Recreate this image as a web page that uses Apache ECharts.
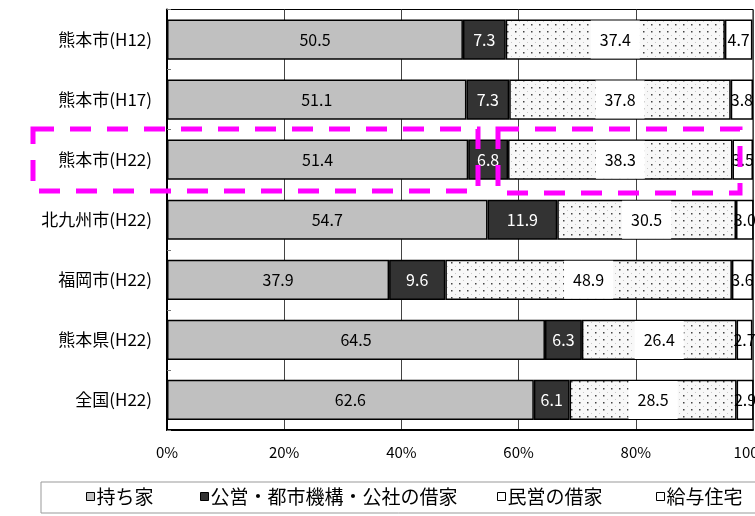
<!DOCTYPE html>
<html>
<head>
<meta charset="utf-8">
<script src="https://cdn.jsdelivr.net/npm/echarts@6/dist/echarts.min.js"></script>
<style>
  html, body { margin: 0; padding: 0; background: #fff; }
  #main { width: 755px; height: 516px; }
</style>
</head>
<body>
<div id="main"></div>
<script>
var categories = ["熊本市(H12)", "熊本市(H17)", "熊本市(H22)", "北九州市(H22)", "福岡市(H22)", "熊本県(H22)", "全国(H22)"];
var seriesNames = ["持ち家", "公営・都市機構・公社の借家", "民営の借家", "給与住宅"];
var ownHouse = [50.5, 51.1, 51.4, 54.7, 37.9, 64.5, 62.6];
var publicRent = [7.3, 7.3, 6.8, 11.9, 9.6, 6.3, 6.1];
var privateRent = [37.4, 37.8, 38.3, 30.5, 48.9, 26.4, 28.5];
var companyHouse = [4.7, 3.8, 3.5, 3.0, 3.6, 2.7, 2.9];
var xTicks = [0, 20, 40, 60, 80, 100];

var FONT = '"Noto Sans CJK JP", "Noto Sans", sans-serif';

// dotted fill for the private rent segments
var dots = document.createElement("canvas");
dots.width = 8;
dots.height = 7;
var dctx = dots.getContext("2d");
dctx.fillStyle = "#f8f8f8";
dctx.fillRect(0, 0, 8, 7);
dctx.fillStyle = "#444";
dctx.fillRect(3, 3, 1.5, 1.5);
dctx.fillStyle = "#c8c8c8";
dctx.fillRect(7, 0, 1, 1);

var fmt = function (p) { return p.value.toFixed(1); };

var makeSeries = function (name, data, color, labelColor, extraLabel) {
  var label = {
    show: true,
    position: "inside",
    color: labelColor,
    fontSize: 16,
    fontFamily: FONT,
    formatter: fmt
  };
  if (extraLabel) Object.assign(label, extraLabel);
  return {
    name: name,
    type: "bar",
    stack: "total",
    barCategoryGap: "33%",
    data: data,
    itemStyle: { color: color, borderColor: "#000", borderWidth: 1.5 },
    label: label,
    emphasis: { disabled: true }
  };
};

var legendIconColors = ["#c0c0c0", "#333333", "#ffffff", "#ffffff"];
var legendLefts = [86, 200, 497, 656];
var legends = seriesNames.map(function (n, i) {
  return {
    data: [{ name: n, icon: "rect", itemStyle: { color: legendIconColors[i], borderColor: "#000", borderWidth: 1 } }],
    left: legendLefts[i],
    top: 487,
    padding: 0,
    itemWidth: 8,
    itemHeight: 8,
    selectedMode: false,
    textStyle: { fontSize: 19, color: "#000", fontFamily: FONT, padding: [0, 0, 0, -3] }
  };
});

var myChart = echarts.init(document.getElementById("main"));
var option = {
  animation: false,
  backgroundColor: "#fff",
  textStyle: { fontFamily: FONT },
  grid: {
    left: 167,
    right: 2,
    top: 9.5,
    bottom: 86,
    show: true,
    borderColor: "#000",
    borderWidth: 1,
    containLabel: false,
    outerBoundsMode: "none"
  },
  legend: legends,
  xAxis: {
    type: "value",
    min: xTicks[0],
    max: xTicks[xTicks.length - 1],
    interval: 20,
    axisLine: { show: true, lineStyle: { color: "#000", width: 2 } },
    axisTick: { show: false },
    axisLabel: { formatter: "{value}%", color: "#000", fontSize: 15, margin: 15, fontFamily: FONT },
    splitLine: { show: true, lineStyle: { color: "#444", width: 1 } }
  },
  yAxis: {
    type: "category",
    inverse: true,
    data: categories,
    axisLine: { show: true, lineStyle: { color: "#000", width: 2 } },
    axisTick: { show: true, inside: true, length: 4, lineStyle: { color: "#777" } },
    axisLabel: { color: "#000", fontSize: 17, margin: 15, fontFamily: FONT },
    splitLine: { show: false }
  },
  series: [
    makeSeries(seriesNames[0], ownHouse, "#c0c0c0", "#000"),
    makeSeries(seriesNames[1], publicRent, "#333333", "#fff"),
    makeSeries(seriesNames[2], privateRent, { image: dots, repeat: "repeat" }, "#000",
      { backgroundColor: "#fff", padding: [11, 9] }),
    makeSeries(seriesNames[3], companyHouse, "#fff", "#000")
  ],
  graphic: [
    {
      type: "rect",
      silent: true,
      shape: { x: 41, y: 482, width: 730, height: 31 },
      style: { fill: "none", stroke: "#999", lineWidth: 1 }
    },
    {
      type: "rect",
      silent: true,
      z: 100,
      shape: { x: 33, y: 129, width: 445, height: 62 },
      style: { fill: "none", stroke: "#ff00ff", lineWidth: 5, lineDash: [21, 16] }
    },
    {
      type: "rect",
      silent: true,
      z: 100,
      shape: { x: 498, y: 129, width: 242, height: 64 },
      style: { fill: "none", stroke: "#ff00ff", lineWidth: 5, lineDash: [21, 16] }
    }
  ]
};
myChart.setOption(option);
</script>
</body>
</html>
